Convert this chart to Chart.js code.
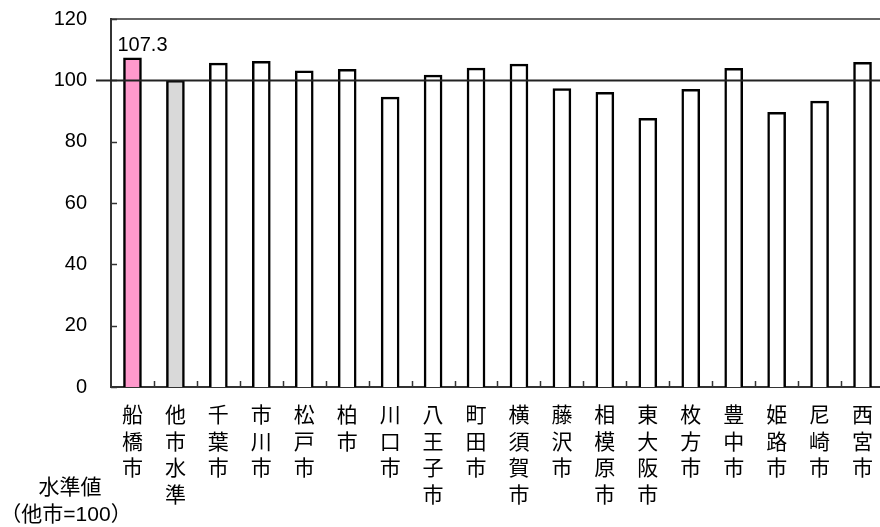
<!DOCTYPE html>
<html lang="ja">
<head>
<meta charset="utf-8">
<title>水準値</title>
<script src="https://cdn.jsdelivr.net/npm/chart.js@4"></script>
<style>
  html, body { margin: 0; padding: 0; background: #fff; overflow: hidden; }
  #chart { display: block; }
</style>
</head>
<body>
<canvas id="chart" width="884" height="527"></canvas>
<script>
// 都市名（縦書きで1文字ずつ表示）
const cities = ['船橋市', '他市水準', '千葉市', '市川市', '松戸市', '柏市', '川口市', '八王子市', '町田市',
  '横須賀市', '藤沢市', '相模原市', '東大阪市', '枚方市', '豊中市', '姫路市', '尼崎市', '西宮市'];
// 水準値（他市=100）
const levels = [107.3, 100, 105.6, 106.2, 103.1, 103.6, 94.5, 101.7, 104.0,
  105.3, 97.3, 96.1, 87.6, 97.1, 103.9, 89.6, 93.2, 105.9];
const yTicks = [0, 20, 40, 60, 80, 100, 120];
const baseLevel = 100;
const labelIndex = 0; // 数値を表示するバー

const FONT = '"Liberation Sans", "Noto Sans CJK JP", sans-serif';
const fills = levels.map((v, i) => i === 0 ? '#ff99cc' : (i === 1 ? '#d9d9d9' : '#ffffff'));

// 枠線・目盛り・基準線・数値ラベル・軸タイトル
const decor = {
  id: 'decor',
  afterDatasetsDraw(chart) {
    const { ctx, chartArea: a, scales: { x, y } } = chart;
    ctx.save();
    ctx.strokeStyle = '#333';
    ctx.lineWidth = 1.5;
    // 上枠
    ctx.beginPath();
    ctx.moveTo(a.left, a.top);
    ctx.lineTo(a.right, a.top);
    ctx.stroke();
    // y軸の内向き目盛り
    yTicks.forEach(t => {
      const py = Math.round(y.getPixelForValue(t)) + 0.5;
      ctx.beginPath();
      ctx.moveTo(a.left, py);
      ctx.lineTo(a.left + 6, py);
      ctx.stroke();
    });
    // x軸の区切り目盛り
    const step = (a.right - a.left) / cities.length;
    for (let i = 1; i < cities.length; i++) {
      const px = Math.round(x.getPixelForTick(i) - step / 2) + 0.5;
      ctx.beginPath();
      ctx.moveTo(px, a.bottom);
      ctx.lineTo(px, a.bottom - 6);
      ctx.stroke();
    }
    // 基準線 100
    const by = Math.round(y.getPixelForValue(baseLevel)) + 0.5;
    ctx.strokeStyle = '#222';
    ctx.lineWidth = 2;
    ctx.beginPath();
    ctx.moveTo(a.left - 15, by);
    ctx.lineTo(a.right, by);
    ctx.stroke();
    // 数値ラベル
    const bar = chart.getDatasetMeta(0).data[labelIndex];
    ctx.fillStyle = '#000';
    ctx.font = '20px ' + FONT;
    ctx.textAlign = 'left';
    ctx.textBaseline = 'alphabetic';
    ctx.fillText(levels[labelIndex].toFixed(1), bar.x - 15, bar.y - 7);
    // 軸タイトル
    ctx.font = '21px ' + FONT;
    ctx.textAlign = 'center';
    ctx.textBaseline = 'middle';
    ctx.fillText('水準値', 70, 488);
    ctx.fillText('（他市=100）', 66, 515);
    ctx.restore();
  }
};

new Chart(document.getElementById('chart'), {
  type: 'bar',
  data: {
    labels: cities.map(c => c.split('')),
    datasets: [{
      data: levels,
      backgroundColor: fills,
      borderColor: '#000',
      borderWidth: 2.5,
      barThickness: 18
    }]
  },
  options: {
    responsive: false,
    animation: false,
    devicePixelRatio: 1,
    layout: { padding: { top: 19, right: 0, bottom: 0, left: 0 } },
    plugins: { legend: { display: false }, tooltip: { enabled: false } },
    scales: {
      x: {
        grid: { display: false, drawTicks: false },
        border: { display: true, color: '#333', width: 2 },
        ticks: {
          color: '#000',
          padding: 16,
          autoSkip: false,
          maxRotation: 0,
          font: { family: FONT, size: 21, lineHeight: 1.27 }
        },
        afterFit(scale) {
          scale.height = 140;
          scale.paddingLeft = 0;
          scale.paddingRight = 0;
        }
      },
      y: {
        min: 0,
        max: 120,
        afterBuildTicks(scale) { scale.ticks = yTicks.map(v => ({ value: v })); },
        grid: { display: false, drawTicks: false },
        border: { display: true, color: '#333', width: 2 },
        ticks: {
          color: '#000',
          padding: 24,
          font: { family: FONT, size: 20 }
        },
        afterFit(scale) {
          scale.width = 111;
          scale.paddingTop = 0;
          scale.paddingBottom = 0;
        }
      }
    }
  },
  plugins: [decor]
});
</script>
</body>
</html>
